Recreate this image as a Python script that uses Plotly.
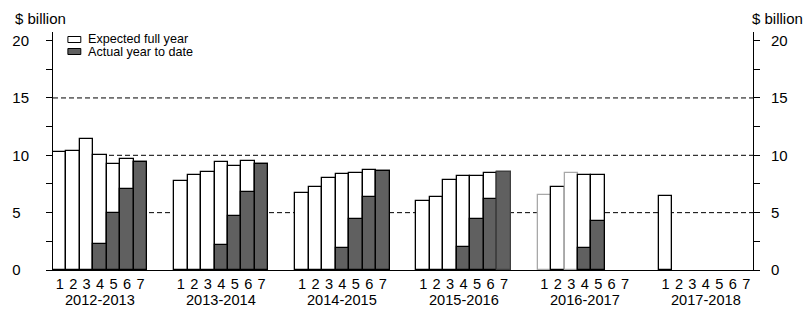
import plotly.graph_objects as go

# ---------------- data ----------------
years = ["2012-2013", "2013-2014", "2014-2015", "2015-2016", "2016-2017", "2017-2018"]
months = ["1", "2", "3", "4", "5", "6", "7"]

expected_2012_13 = [10.3, 10.4, 11.4, 10.0, 9.2, 9.7, 9.4]
actual_2012_13 = [None, None, None, 2.3, 4.95, 7.05, 9.4]
expected_2013_14 = [7.8, 8.3, 8.55, 9.4, 9.1, 9.5, 9.2]
actual_2013_14 = [None, None, None, 2.2, 4.7, 6.8, 9.2]
expected_2014_15 = [6.75, 7.25, 8.05, 8.4, 8.5, 8.75, 8.65]
actual_2014_15 = [None, None, None, 1.95, 4.45, 6.4, 8.65]
expected_2015_16 = [6.05, 6.4, 7.85, 8.2, 8.2, 8.45, 8.55]
actual_2015_16 = [None, None, None, 2.0, 4.45, 6.2, 8.55]
expected_2016_17 = [6.55, 7.25, 8.5, 8.3, 8.3, None, None]
actual_2016_17 = [None, None, None, 1.95, 4.3, None, None]
expected_2017_18 = [6.45, None, None, None, None, None, None]
actual_2017_18 = [None, None, None, None, None, None, None]

expected_all = [expected_2012_13, expected_2013_14, expected_2014_15,
                expected_2015_16, expected_2016_17, expected_2017_18]
actual_all = [actual_2012_13, actual_2013_14, actual_2014_15,
              actual_2015_16, actual_2016_17, actual_2017_18]

y_ticks = [0, 2.5, 5, 7.5, 10, 12.5, 15, 17.5, 20]
y_labels_right = ["0", "", "5", "", "10", "", "15", "", "20"]
y_labels_left = ["0\u2007", "", "5\u2007", "", "10", "", "15", "", "20"]
grid_levels = [5, 10, 15]

# ---------------- styling ----------------
FONT = "Liberation Sans, Arial, sans-serif"
DARK = "#606060"
SLOTS_PER_GROUP = 9

x_pos, exp_vals, act_vals, tick_text = [], [], [], []
exp_line_col, act_line_col = [], []
for g, yr in enumerate(years):
    for i, m in enumerate(months):
        x_pos.append(g * SLOTS_PER_GROUP + i)
        exp_vals.append(expected_all[g][i])
        act_vals.append(actual_all[g][i])
        tick_text.append(m)
        exp_line_col.append("#a8a8a8" if (yr == "2016-2017" and i in (0, 2)) else "black")
        act_line_col.append("#404040" if (yr == "2015-2016" and i == 6) else "black")

fig = go.Figure()
fig.add_trace(go.Bar(
    x=x_pos, y=exp_vals, width=1, name="Expected full year",
    marker=dict(color="white", line=dict(color=exp_line_col, width=1.3)),
    showlegend=False, hoverinfo="skip"))
fig.add_trace(go.Bar(
    x=x_pos, y=act_vals, width=1, name="Actual year to date",
    marker=dict(color=DARK, line=dict(color=act_line_col, width=1.3)),
    showlegend=False, hoverinfo="skip"))
# invisible trace to anchor the right axis
fig.add_trace(go.Scatter(x=[x_pos[0]], y=[0], yaxis="y2", mode="markers",
                         marker=dict(opacity=0), showlegend=False, hoverinfo="skip"))

L, R, T, B = 48, 58, 32, 42
W, H = 811, 312
pw, ph = W - L - R, H - T - B

def px_x(px):
    return (px - L) / pw

def px_y(py):
    return (H - B - py) / ph

shapes = []
for gl in grid_levels:
    shapes.append(dict(type="line", xref="paper", x0=0, x1=1, yref="y", y0=gl, y1=gl,
                       line=dict(color="black", width=1, dash="5px,3px"), layer="below"))
# legend swatches
shapes.append(dict(type="rect", xref="paper", yref="paper",
                   x0=px_x(63), x1=px_x(76), y0=px_y(42.5), y1=px_y(36.5),
                   fillcolor="white", line=dict(color="black", width=1)))
shapes.append(dict(type="rect", xref="paper", yref="paper",
                   x0=px_x(63), x1=px_x(76), y0=px_y(54.5), y1=px_y(48.5),
                   fillcolor=DARK, line=dict(color="black", width=1)))

annotations = [
    dict(text="Expected full year", xref="paper", yref="paper", x=px_x(81), y=px_y(38.5),
         xanchor="left", yanchor="middle", showarrow=False, font=dict(size=12.6)),
    dict(text="Actual year to date", xref="paper", yref="paper", x=px_x(81), y=px_y(52),
         xanchor="left", yanchor="middle", showarrow=False, font=dict(size=12.6)),
    dict(text="$ billion", xref="paper", yref="paper", x=px_x(8), y=px_y(19),
         xanchor="left", yanchor="middle", showarrow=False, font=dict(size=15)),
    dict(text="$ billion", xref="paper", yref="paper", x=px_x(750), y=px_y(19),
         xanchor="left", yanchor="middle", showarrow=False, font=dict(size=15)),
]
for g, yr in enumerate(years):
    annotations.append(dict(text=yr, xref="x", yref="paper", x=g * SLOTS_PER_GROUP + 3,
                            y=px_y(299.5), xanchor="center", yanchor="middle",
                            showarrow=False, font=dict(size=14.6)))

yrange = [0, 20.75]
fig.update_layout(
    width=W, height=H, margin=dict(l=L, r=R, t=T, b=B, pad=0),
    paper_bgcolor="white", plot_bgcolor="rgba(0,0,0,0)",
    font=dict(family=FONT, color="black", size=15),
    barmode="overlay", bargap=0,
    shapes=shapes, annotations=annotations,
    xaxis=dict(range=[-0.5, 51.5], tickmode="array", tickvals=x_pos, ticktext=tick_text,
               ticks="", showgrid=False, zeroline=False, showline=True,
               linecolor="black", linewidth=1, tickfont=dict(size=14.6),
               ticklabelstandoff=0, fixedrange=True),
    yaxis=dict(range=yrange, tickmode="array", tickvals=y_ticks, ticktext=y_labels_left,
               ticks="outside", ticklen=6, tickcolor="black", tickwidth=1,
               showgrid=False, zeroline=False, showline=True, linecolor="black",
               linewidth=1, tickfont=dict(size=15), ticklabelstandoff=14),
    yaxis2=dict(range=yrange, overlaying="y", side="right", tickmode="array",
                tickvals=y_ticks, ticktext=y_labels_right,
                ticks="outside", ticklen=6, tickcolor="black", tickwidth=1,
                showgrid=False, zeroline=False, showline=True, linecolor="black",
                linewidth=1, tickfont=dict(size=15), ticklabelstandoff=8),
)

fig.write_html("out.html")
